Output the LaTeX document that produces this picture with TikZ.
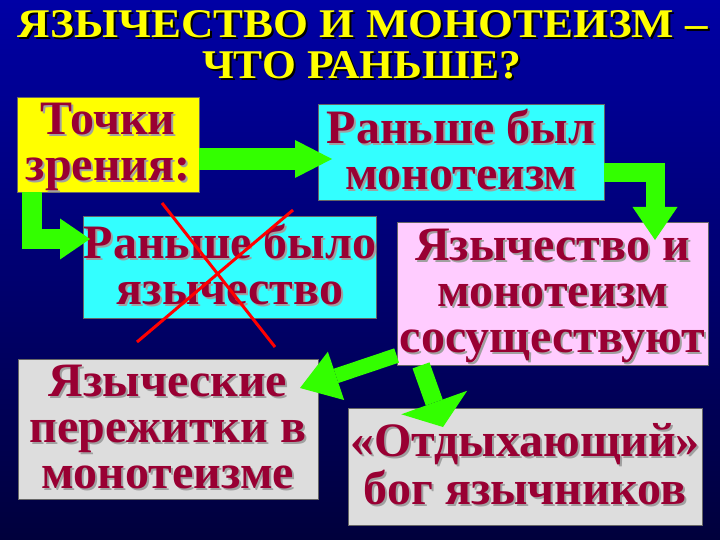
\documentclass[tikz,border=0pt]{standalone}
\usepackage{fontspec}
\setmainfont{Liberation Serif}
\usepackage{xcolor}
\usepackage{graphicx}
\usetikzlibrary{positioning, arrows.meta}

\definecolor{bgtop}{RGB}{0,0,165}
\definecolor{bgbottom}{RGB}{0,0,60}
\definecolor{boxyellow}{RGB}{255,255,0}
\definecolor{boxcyan}{RGB}{51,255,255}
\definecolor{boxpink}{RGB}{255,204,255}
\definecolor{boxgrey}{RGB}{221,221,221}
\definecolor{textred}{RGB}{153,0,51}
\definecolor{arrowgreen}{RGB}{51,255,0}
\definecolor{txtshadow}{RGB}{160,160,160}

\newcommand\lines[1]{\begin{tabular}{@{}c@{}}#1\end{tabular}}
\newcommand\shadowed[2]{\rlap{\hspace{2pt}\raisebox{-2pt}{\color{#1}#2}}#2}
\newcommand\boxtext[1]{\raisebox{-5pt}[\height][\depth]{\shadowed{txtshadow}{\lines{#1}}}}

\tikzset{
    title_text/.style={
        text=boxyellow, inner sep=0pt, anchor=base,
        font=\bfseries\fontsize{44}{44}\selectfont
    },
    tbox/.style={
        rectangle, draw=black!60, line width=0.8pt, inner sep=0pt,
        text=textred, font=\bfseries\fontsize{48}{46}\selectfont
    }
}

\begin{document}
\begin{tikzpicture}[
        x=1pt, y=-1pt,
        green_arrow/.style={draw=arrowgreen, line join=miter},
        cross/.style={draw=red, line width=3pt}
    ]

    % Background
    \useasboundingbox (0,0) rectangle (720,540);
    \shade[top color=bgtop, bottom color=bgbottom] (0,0) rectangle (720,540);

    % Title
    \node[title_text] (title) at (363,38) {\shadowed{black}{\resizebox{690pt}{27pt}{ЯЗЫЧЕСТВО И МОНОТЕИЗМ –}}};
    \node[title_text] (subtitle) at (361.5,79) {\shadowed{black}{\resizebox{319pt}{27pt}{ЧТО РАНЬШЕ?}}};

    % Boxes
    \node[tbox, fill=boxyellow, minimum width=182pt, minimum height=95pt] (views) at (108,144.5) {\boxtext{Точки\\зрения:}};
    \node[tbox, fill=boxcyan, minimum width=286pt, minimum height=90pt] (mono) at (461,152) {\boxtext{Раньше был\\монотеизм}};
    \node[tbox, fill=boxcyan, minimum width=290pt, minimum height=102pt] (pagan) at (230,267) {\boxtext{Раньше было\\язычество}};
    \node[tbox, fill=boxpink, minimum width=311pt, minimum height=143pt] (coexist) at (552.5,293.5) {\boxtext{Язычество и\\монотеизм\\сосуществуют}};
    \node[tbox, fill=boxgrey, minimum width=300pt, minimum height=136pt] (relics) at (168,429) {\boxtext{Языческие\\пережитки в\\монотеизме}};
    \node[tbox, fill=boxgrey, minimum width=354pt, minimum height=117pt] (restgod) at (525,466.5) {\boxtext{«Отдыхающий»\\бог язычников}};

    % Arrow ends and bends
    \coordinate (tip1) at (332,159);
    \coordinate (bend2) at (32,239);
    \coordinate (tip2) at (90,239);
    \coordinate (bend3) at (655,172.5);
    \coordinate (tip3) at (655,240);
    \coordinate (tip4) at (300,388);
    \coordinate (tip5) at (443,427);

    % Arrows
    \draw[green_arrow, line width=22pt, -{Triangle[length=37pt, width=38pt, line width=0pt]}] (views.east |- tip1) -- (tip1);
    \draw[green_arrow, line width=20pt, -{Triangle[length=30pt, width=41pt, line width=0pt]}] (views.south -| bend2) -- (bend2) -- (tip2);
    \draw[green_arrow, line width=19pt, -{Triangle[length=33pt, width=45pt, line width=0pt]}] (mono.east |- bend3) -- (bend3) -- (tip3);
    \draw[green_arrow, line width=15pt, -{Triangle[length=38pt, width=51pt, line width=0pt]}] (coexist.west |- 0,355.5) -- (tip4);
    \draw[green_arrow, line width=18pt, -{Triangle[length=26pt, width=70pt, line width=0pt]}] (coexist.south -| 421,0) -- (tip5);

    % Crossed out
    \draw[cross] (162,203) -- (275,347);
    \draw[cross] (293,210) -- (137,342);

\end{tikzpicture}
\end{document}
